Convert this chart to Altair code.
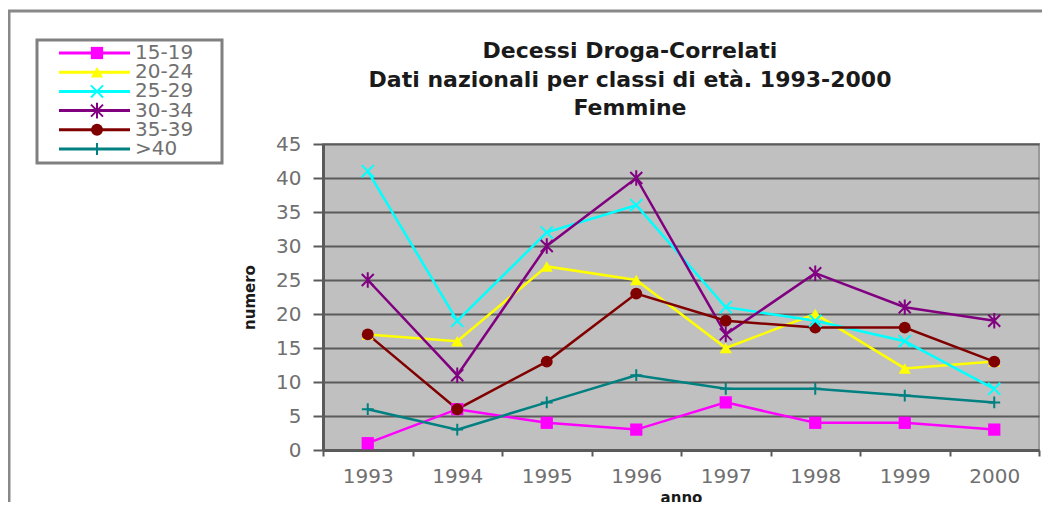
import altair as alt
import pandas as pd

# ---------------- data ----------------
years = ["1993", "1994", "1995", "1996", "1997", "1998", "1999", "2000"]
series = ["15-19", "20-24", "25-29", "30-34", "35-39", ">40"]
v_15_19 = [1, 6, 4, 3, 7, 4, 4, 3]
v_20_24 = [17, 16, 27, 25, 15, 20, 12, 13]
v_25_29 = [41, 19, 32, 36, 21, 19, 16, 9]
v_30_34 = [25, 11, 30, 40, 17, 26, 21, 19]
v_35_39 = [17, 6, 13, 23, 19, 18, 18, 13]
v_40 = [6, 3, 7, 11, 9, 9, 8, 7]
colors = ["#FF00FF", "#FFFF00", "#00FFFF", "#800080", "#800000", "#008080"]
title_lines = ["Decessi Droga-Correlati",
               "Dati nazionali per classi di età. 1993-2000",
               "Femmine"]

values = [v_15_19, v_20_24, v_25_29, v_30_34, v_35_39, v_40]
rows = []
for s, vals in zip(series, values):
    for y, v in zip(years, vals):
        rows.append({"series": s, "year": y, "value": v})
df = pd.DataFrame(rows)
leg_df = pd.DataFrame({"series": series})
one = pd.DataFrame({"a": [0]})

# ---------------- layout constants (page px) ----------------
PX0, PY0 = 323, 144          # plot origin on page
W, H = 716, 306

def px(x):
    return x - PX0

def py(y):
    return y - PY0

FONT = "DejaVu Sans"
filled_series = ["15-19", "20-24", "35-39"]
stroked_series = ["25-29", "30-34", ">40"]
X_PATH = "M-1,-1L1,1M-1,1L1,-1"
STAR_PATH = "M-1,-1L1,1M-1,1L1,-1M0,-1.3L0,1.3"
PLUS_PATH = "M-1,0L1,0M0,-1L0,1"
shapes = ["square", "triangle-up", X_PATH, STAR_PATH, "circle", PLUS_PATH]
sizes = [150, 140, 70, 80, 150, 80]

color_enc = alt.Color("series:N", scale=alt.Scale(domain=series, range=colors), legend=None)
shape_enc = alt.Shape("series:N", scale=alt.Scale(domain=series, range=shapes), legend=None)
size_enc = alt.Size("series:N", scale=alt.Scale(domain=series, range=sizes), legend=None)

x_axis = alt.Axis(title="anno", tickBand="extent", labelAngle=0,
                  labelFont=FONT, labelFontSize=20, labelColor="#707070",
                  labelPadding=10, domainColor="#5a5a5a", domainWidth=3,
                  tickColor="#5a5a5a", tickWidth=2, tickSize=6,
                  titleFont=FONT, titleFontSize=15, titleFontWeight="bold",
                  titleColor="#1a1a1a", titlePadding=4, grid=False)
x_enc = alt.X("year:O", sort=years,
              scale=alt.Scale(type="band", domain=years, paddingInner=0, paddingOuter=0),
              bandPosition=0.5, axis=x_axis)

y_axis = alt.Axis(values=list(range(0, 46, 5)), title="numero", grid=True,
                  gridColor="#5a5a5a", gridWidth=2, labelFont=FONT, labelFontSize=20,
                  labelColor="#707070", labelPadding=12, domainColor="#5a5a5a",
                  domainWidth=3, tickColor="#5a5a5a", tickWidth=2, tickSize=10,
                  titleFont=FONT, titleFontSize=15, titleFontWeight="bold",
                  titleColor="#1a1a1a", titlePadding=18)
y_scale = alt.Scale(domain=[0, 45], nice=False, zero=True)

base = alt.Chart(df)
lines = base.mark_line(strokeWidth=2.5).encode(
    x=x_enc,
    y=alt.Y("value:Q", scale=y_scale, axis=y_axis),
    color=color_enc,
    detail="series:N",
)

def pts(chart, y_enc, x_enc_pt):
    f = chart.transform_filter(alt.FieldOneOfPredicate(field="series", oneOf=filled_series)).mark_point(
        filled=True, opacity=1).encode(x=x_enc_pt, y=y_enc, color=color_enc, shape=shape_enc, size=size_enc)
    s = chart.transform_filter(alt.FieldOneOfPredicate(field="series", oneOf=stroked_series)).mark_point(
        filled=False, opacity=1, strokeWidth=2).encode(x=x_enc_pt, y=y_enc, color=color_enc, shape=shape_enc, size=size_enc)
    return [f, s]

plot_pts = pts(base, alt.Y("value:Q", scale=y_scale, axis=None), x_enc)

# ---------------- legend (custom) ----------------
leg_y = alt.Y("series:N", scale=alt.Scale(type="point", domain=series,
                                          range=[py(53), py(149)], padding=0), axis=None)
legbase = alt.Chart(leg_df)
leg_box = alt.Chart(one).mark_rect(fill="white", stroke="#808080", strokeWidth=3).encode(
    x=alt.value(px(37)), x2=alt.value(px(222)), y=alt.value(py(40)), y2=alt.value(py(163)))
leg_lines = legbase.mark_rule(strokeWidth=3).encode(
    x=alt.value(px(59)), x2=alt.value(px(130)), y=leg_y, color=color_enc)
leg_pts = pts(legbase, leg_y, alt.value(px(97)))
leg_text = legbase.mark_text(align="left", baseline="middle", font=FONT, fontSize=20,
                             color="#707070").encode(
    x=alt.value(px(135)), y=leg_y, text="series:N")

# ---------------- title (as text marks) ----------------
title_y = [58, 87, 115]
title_layers = [
    alt.Chart(one).mark_text(align="center", baseline="alphabetic", font=FONT, fontSize=22,
                             fontWeight="bold", color="#1a1a1a").encode(
        x=alt.value(px(630)), y=alt.value(py(ty)), text=alt.value(t))
    for t, ty in zip(title_lines, title_y)
]

# ---------------- outer frame ----------------
frame_left = alt.Chart(one).mark_rule(color="#888888", strokeWidth=3).encode(
    x=alt.value(px(9)), y=alt.value(py(11)), y2=alt.value(py(510)))
frame_top = alt.Chart(one).mark_rule(color="#888888", strokeWidth=3).encode(
    x=alt.value(px(8)), x2=alt.value(px(1060)), y=alt.value(py(11)))

chart = alt.layer(
    frame_left, frame_top, *title_layers, leg_box, leg_lines, *leg_pts, leg_text,
    lines, *plot_pts
).resolve_scale(y="independent").properties(
    width=W, height=H,
    autosize=alt.AutoSizeParams(type="none"),
    padding={"left": PX0 - 8, "top": PY0 - 8, "right": 3, "bottom": 52},
    background="white",
).configure_view(fill="#C0C0C0", stroke="#9a9a9a", strokeWidth=2)

chart.save("out.html", embed_options={"renderer": "svg", "actions": False})
